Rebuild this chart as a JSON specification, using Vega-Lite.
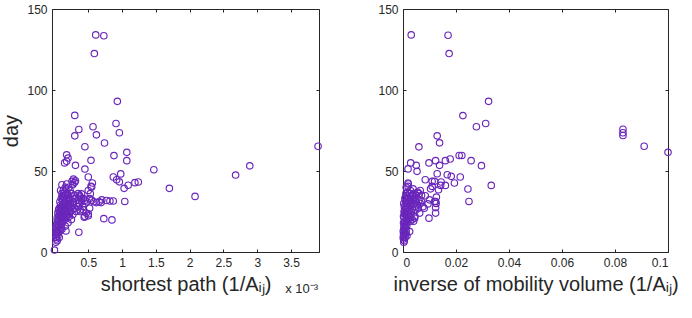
{
  "$schema": "https://vega.github.io/schema/vega-lite/v6.json",
  "background": "white",
  "padding": {"left": 1, "top": 2, "right": 0, "bottom": 0},
  "config": {
    "view": {"stroke": "#262626", "strokeWidth": 1},
    "axis": {
      "grid": false,
      "domainColor": "#262626",
      "tickColor": "#262626",
      "labelColor": "#262626",
      "titleColor": "#262626",
      "labelFont": "Liberation Sans",
      "titleFont": "Liberation Sans",
      "labelFontSize": 12,
      "titleFontSize": 20,
      "titleFontWeight": "normal",
      "tickSize": -3,
      "labelPadding": 8
    },
    "concat": {"spacing": 52}
  },
  "datasets": {
    "sp": [
      {"x":0.61,"day":134},{"x":0.73,"day":133.5},{"x":0.59,"day":122.5},{"x":0.93,"day":93},{"x":0.30,"day":84.3},
      {"x":0.57,"day":77.3},{"x":0.36,"day":75.6},{"x":0.91,"day":79.3},{"x":0.96,"day":73.6},{"x":0.30,"day":71.7},
      {"x":0.62,"day":72.3},{"x":0.74,"day":67.3},{"x":0.45,"day":65},{"x":3.90,"day":65.3},{"x":1.07,"day":61.5},
      {"x":0.88,"day":59.5},{"x":1.07,"day":56.4},{"x":0.18,"day":60},{"x":0.20,"day":58},{"x":0.18,"day":56},
      {"x":0.15,"day":55},{"x":0.54,"day":56.6},{"x":0.31,"day":53.5},{"x":1.47,"day":50.8},{"x":0.45,"day":51.2},
      {"x":0.98,"day":48.2},{"x":0.87,"day":46.3},{"x":0.50,"day":46.3},{"x":0.92,"day":44.6},{"x":0.96,"day":43.3},
      {"x":1.19,"day":42.8},{"x":1.24,"day":43.2},{"x":1.09,"day":41.2},{"x":1.03,"day":39.3},{"x":0.56,"day":42.6},
      {"x":0.55,"day":40.1},{"x":2.68,"day":47.5},{"x":2.89,"day":53.2},{"x":1.70,"day":39.3},{"x":2.08,"day":34.3},
      {"x":1.04,"day":31.2},{"x":0.73,"day":20.6},{"x":0.85,"day":19.8},{"x":0.36,"day":12.2},{"x":0.0,"day":1.2},
      {"x":0.87,"day":31.5},{"x":0.82,"day":31.5},{"x":0.77,"day":31.8},{"x":0.70,"day":32.2},{"x":0.69,"day":30.5},
      {"x":0.66,"day":31},{"x":0.11,"day":41.5},{"x":0.26,"day":43.6},{"x":0.27,"day":41.5},{"x":0.40,"day":35.9},
      {"x":0.36,"day":30.2},{"x":0.54,"day":40.5},{"x":0.52,"day":27},{"x":0.50,"day":22.3},{"x":0.47,"day":24},
      {"x":0.45,"day":22},{"x":0.50,"day":23.5},{"x":0.44,"day":21.5},
      {"x":0.37,"day":35},{"x":0.40,"day":33},{"x":0.45,"day":32},{"x":0.48,"day":31},{"x":0.52,"day":33},
      {"x":0.55,"day":32},{"x":0.58,"day":31},{"x":0.62,"day":30.5},{"x":0.50,"day":38},{"x":0.53,"day":36},
      {"x":0.42,"day":28},{"x":0.38,"day":25},{"x":0.43,"day":26},{"x":0.13,"day":38},{"x":0.16,"day":40},
      {"x":0.02,"day":6},{"x":0.03,"day":8},{"x":0.04,"day":7},{"x":0.02,"day":9},{"x":0.05,"day":10},
      {"x":0.03,"day":11},{"x":0.06,"day":12},{"x":0.04,"day":13},{"x":0.08,"day":13},{"x":0.02,"day":12},
      {"x":0.05,"day":14},{"x":0.07,"day":9},{"x":0.03,"day":14},{"x":0.10,"day":15},{"x":0.06,"day":16},
      {"x":0.02,"day":15},{"x":0.05,"day":17},{"x":0.08,"day":18},{"x":0.10,"day":17},{"x":0.12,"day":19},
      {"x":0.07,"day":20},{"x":0.04,"day":19},{"x":0.15,"day":20},{"x":0.10,"day":21},{"x":0.13,"day":22},
      {"x":0.18,"day":21},{"x":0.06,"day":22},{"x":0.09,"day":23},{"x":0.20,"day":18},{"x":0.16,"day":16},
      {"x":0.22,"day":22},{"x":0.25,"day":20},{"x":0.11,"day":14},{"x":0.17,"day":13},
      {"x":0.05,"day":24},{"x":0.08,"day":25},{"x":0.10,"day":26},{"x":0.12,"day":24},{"x":0.14,"day":27},
      {"x":0.16,"day":25},{"x":0.18,"day":28},{"x":0.20,"day":26},{"x":0.22,"day":24},{"x":0.24,"day":28},
      {"x":0.26,"day":26},{"x":0.28,"day":29},{"x":0.30,"day":27},{"x":0.32,"day":25},{"x":0.07,"day":27},
      {"x":0.09,"day":29},{"x":0.11,"day":28},{"x":0.13,"day":30},{"x":0.15,"day":23},{"x":0.19,"day":23},
      {"x":0.21,"day":29},{"x":0.23,"day":27},{"x":0.27,"day":23},{"x":0.17,"day":30},{"x":0.06,"day":26},
      {"x":0.35,"day":28},{"x":0.38,"day":26},{"x":0.12,"day":29},{"x":0.10,"day":23},
      {"x":0.08,"day":31},{"x":0.10,"day":33},{"x":0.12,"day":32},{"x":0.14,"day":34},{"x":0.16,"day":31},
      {"x":0.18,"day":33},{"x":0.20,"day":35},{"x":0.22,"day":32},{"x":0.24,"day":30},{"x":0.26,"day":34},
      {"x":0.28,"day":31},{"x":0.30,"day":33},{"x":0.33,"day":30},{"x":0.36,"day":32},{"x":0.40,"day":31},
      {"x":0.43,"day":33},{"x":0.45,"day":30},{"x":0.11,"day":36},{"x":0.15,"day":37},{"x":0.19,"day":36},
      {"x":0.23,"day":38},{"x":0.13,"day":35},{"x":0.17,"day":39},{"x":0.25,"day":36},{"x":0.29,"day":35},
      {"x":0.35,"day":36},{"x":0.38,"day":34},{"x":0.09,"day":38},{"x":0.21,"day":40},{"x":0.27,"day":42},
      {"x":0.31,"day":44},{"x":0.28,"day":45},{"x":0.30,"day":43},{"x":0.18,"day":42},
      {"x":0.04,"day":21},{"x":0.07,"day":23},{"x":0.09,"day":19},{"x":0.11,"day":25},{"x":0.13,"day":26},
      {"x":0.15,"day":28},{"x":0.14,"day":21},{"x":0.19,"day":25},{"x":0.21,"day":31},{"x":0.23,"day":33},
      {"x":0.17,"day":27},{"x":0.20,"day":30},{"x":0.12,"day":34},{"x":0.16,"day":35},{"x":0.24,"day":25},
      {"x":0.03,"day":17},{"x":0.06,"day":19},{"x":0.08,"day":15},{"x":0.09,"day":27},{"x":0.14,"day":30}
    ],
    "mv": [
      {"x":0.0031,"day":134},{"x":0.017,"day":133.8},{"x":0.0174,"day":122.5},{"x":0.0323,"day":93},{"x":0.0226,"day":84.2},
      {"x":0.0312,"day":79.3},{"x":0.0277,"day":77.3},{"x":0.083,"day":75.8},{"x":0.083,"day":73.6},{"x":0.083,"day":71.9},
      {"x":0.091,"day":65.3},{"x":0.1,"day":61.5},{"x":0.0129,"day":71.7},{"x":0.0138,"day":67.4},{"x":0.006,"day":64.9},
      {"x":0.0212,"day":59.6},{"x":0.0222,"day":59.6},{"x":0.0178,"day":57.4},{"x":0.016,"day":56.4},{"x":0.0123,"day":56.4},
      {"x":0.0257,"day":56.4},{"x":0.0029,"day":55},{"x":0.005,"day":53.5},{"x":0.0098,"day":55},{"x":0.0138,"day":53.5},
      {"x":0.0296,"day":53.3},{"x":0.0019,"day":51.3},{"x":0.0053,"day":49.8},{"x":0.0129,"day":48.3},{"x":0.0167,"day":47.7},
      {"x":0.0182,"day":46.7},{"x":0.0216,"day":46.3},{"x":0.0084,"day":44.6},{"x":0.011,"day":43.6},{"x":0.0144,"day":43.2},
      {"x":0.0194,"day":42.6},{"x":0.0142,"day":41.1},{"x":0.016,"day":41.1},{"x":0.0333,"day":41.1},{"x":0.0104,"day":39},
      {"x":0.0245,"day":38.9},{"x":0.0249,"day":31.2},{"x":0.0123,"day":31.2},{"x":0.0125,"day":30},{"x":0.0019,"day":42.6},
      {"x":0.0019,"day":40.5},{"x":0.0123,"day":27.4},{"x":0.0123,"day":24},{"x":0.0098,"day":20.9},{"x":0.0044,"day":20.9},
      {"x":0.0025,"day":12.6},{"x":0.0063,"day":24},{"x":0.010,"day":32.2},{"x":0.0094,"day":29.7},{"x":0.0084,"day":34.7},
      {"x":0.0126,"day":33.9},{"x":0.0119,"day":43.6},{"x":0.011,"day":40.5},{"x":0.0134,"day":38.4},{"x":0.0119,"day":31.2},
      {"x":0.0003,"day":6},{"x":0.0005,"day":7},{"x":0.0002,"day":8},{"x":0.0008,"day":9},{"x":0.0004,"day":10},
      {"x":0.001,"day":11},{"x":0.0006,"day":12},{"x":0.0012,"day":13},{"x":0.0003,"day":14},{"x":0.0009,"day":15},
      {"x":0.0002,"day":11},{"x":0.0007,"day":13.5},{"x":0.0015,"day":10},{"x":0.0001,"day":9},
      {"x":0.0005,"day":16},{"x":0.001,"day":17},{"x":0.0015,"day":18},{"x":0.0008,"day":19},{"x":0.002,"day":20},
      {"x":0.0004,"day":21},{"x":0.0012,"day":22},{"x":0.0018,"day":23},{"x":0.0025,"day":21},{"x":0.0006,"day":24},
      {"x":0.0022,"day":25},{"x":0.003,"day":23},{"x":0.0014,"day":16},{"x":0.0028,"day":19},{"x":0.0002,"day":18},
      {"x":0.0035,"day":20},{"x":0.0045,"day":22},{"x":0.004,"day":19},
      {"x":0.0008,"day":26},{"x":0.0015,"day":27},{"x":0.002,"day":28},{"x":0.0025,"day":26},{"x":0.003,"day":29},
      {"x":0.0035,"day":27},{"x":0.004,"day":30},{"x":0.0045,"day":28},{"x":0.005,"day":31},{"x":0.0012,"day":29},
      {"x":0.0018,"day":30},{"x":0.0022,"day":31},{"x":0.0028,"day":32},{"x":0.0033,"day":30},{"x":0.0038,"day":32},
      {"x":0.0042,"day":33},{"x":0.0055,"day":29},{"x":0.006,"day":32},{"x":0.0065,"day":30},{"x":0.007,"day":31},
      {"x":0.0075,"day":28},{"x":0.008,"day":27},{"x":0.0005,"day":28},{"x":0.001,"day":31},{"x":0.0016,"day":32},
      {"x":0.0048,"day":26},{"x":0.0058,"day":27},
      {"x":0.001,"day":34},{"x":0.0015,"day":35},{"x":0.002,"day":33},{"x":0.0025,"day":36},{"x":0.003,"day":34},
      {"x":0.0035,"day":35},{"x":0.004,"day":36},{"x":0.0045,"day":34},{"x":0.005,"day":35},{"x":0.0055,"day":37},
      {"x":0.006,"day":36},{"x":0.0065,"day":38},{"x":0.0018,"day":37},{"x":0.0028,"day":38},{"x":0.0038,"day":39},
      {"x":0.0012,"day":40},{"x":0.002,"day":42},{"x":0.007,"day":35},
      {"x":0.0004,"day":25},{"x":0.0009,"day":23},{"x":0.0013,"day":20},{"x":0.0017,"day":25},{"x":0.0021,"day":22},
      {"x":0.0026,"day":29},{"x":0.0032,"day":25},{"x":0.0003,"day":30},{"x":0.0007,"day":33},{"x":0.0011,"day":36},
      {"x":0.0002,"day":22},{"x":0.0006,"day":18},{"x":0.0001,"day":13},{"x":0.0004,"day":15.5},{"x":0.0009,"day":27}
    ]
  },
  "hconcat": [
    {
      "width": 267,
      "height": 243,
      "layer": [
        {
          "data": {"name": "sp"},
          "mark": {"type": "point", "opacity": 0},
          "encoding": {
            "x": {"field": "x", "type": "quantitative", "scale": {"domain": [-0.037, 3.914], "nice": false, "zero": false},
                  "axis": {"orient": "top", "values": [0.5,1,1.5,2,2.5,3,3.5], "labels": false, "domain": false, "title": null}},
            "y": {"field": "day", "type": "quantitative", "scale": {"domain": [0, 150], "nice": false},
                  "axis": {"orient": "right", "values": [0,50,100,150], "labels": false, "domain": false, "title": null}}
          }
        },
        {
          "data": {"name": "sp"},
          "mark": {"type": "point", "shape": "circle", "filled": false, "size": 42, "strokeWidth": 1.15, "color": "#6A26BA", "opacity": 1},
          "encoding": {
            "x": {"field": "x", "type": "quantitative",
                  "axis": {"orient": "bottom", "values": [0.5,1,1.5,2,2.5,3,3.5], "format": "~g", "title": "shortest path (1/Aᵢⱼ)", "titlePadding": 6}},
            "y": {"field": "day", "type": "quantitative",
                  "axis": {"orient": "left", "values": [0,50,100,150], "format": "d", "title": "day", "titleFontSize": 20, "titlePadding": 5}}
          }
        },
        {
          "data": {"values": [{"note": "x 10⁻³"}]},
          "mark": {"type": "text", "align": "right", "baseline": "alphabetic", "font": "Liberation Sans", "fontSize": 13, "color": "#262626"},
          "encoding": {
            "text": {"field": "note"},
            "x": {"datum": 3.9, "type": "quantitative", "axis": null},
            "y": {"datum": -25, "type": "quantitative", "axis": null}
          }
        }
      ],
      "resolve": {"axis": {"x": "independent", "y": "independent"}}
    },
    {
      "width": 265,
      "height": 243,
      "data": {"name": "mv"},
      "layer": [
        {
          "mark": {"type": "point", "opacity": 0},
          "encoding": {
            "x": {"field": "x", "type": "quantitative", "scale": {"domain": [0, 0.1], "nice": false, "zero": false},
                  "axis": {"orient": "top", "values": [0,0.02,0.04,0.06,0.08,0.1], "labels": false, "domain": false, "title": null}},
            "y": {"field": "day", "type": "quantitative", "scale": {"domain": [0, 150], "nice": false},
                  "axis": {"orient": "right", "values": [0,50,100,150], "labels": false, "domain": false, "title": null}}
          }
        },
        {
          "mark": {"type": "point", "shape": "circle", "filled": false, "size": 42, "strokeWidth": 1.15, "color": "#6A26BA", "opacity": 1},
          "encoding": {
            "x": {"field": "x", "type": "quantitative",
                  "axis": {"orient": "bottom", "values": [0,0.02,0.04,0.06,0.08,0.1], "format": "~g", "title": "inverse of mobility volume (1/Aᵢⱼ)", "titlePadding": 6}},
            "y": {"field": "day", "type": "quantitative",
                  "axis": {"orient": "left", "values": [0,50,100,150], "format": "d", "title": null}}
          }
        }
      ],
      "resolve": {"axis": {"x": "independent", "y": "independent"}}
    }
  ]
}
